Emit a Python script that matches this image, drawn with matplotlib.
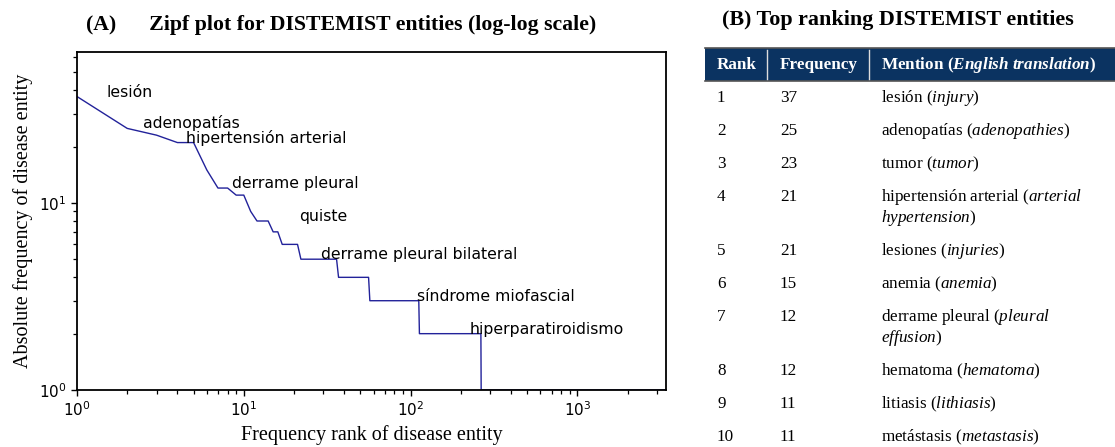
import matplotlib
matplotlib.use('Agg')
import matplotlib.pyplot as plt
from matplotlib.patches import Rectangle
from matplotlib.ticker import LogLocator, NullFormatter
import numpy as np

plt.rcParams['mathtext.fontset'] = 'custom'
plt.rcParams['mathtext.rm'] = 'Liberation Serif'
plt.rcParams['mathtext.it'] = 'Liberation Serif:italic'
plt.rcParams['mathtext.bf'] = 'Liberation Serif:bold'
plt.rcParams['mathtext.bfit'] = 'Liberation Serif:italic:bold'

# frequency of each step and how many entities share it
step_freq = [37, 25, 23, 21, 15, 12, 11, 9, 8, 7, 6, 5, 4, 3, 2, 1]
step_count = [1, 1, 1, 2, 1, 2, 2, 1, 3, 2, 5, 15, 20, 56, 152, 3136]

# labelled entities on the Zipf plot
label_text = ['lesión', 'adenopatías', 'hipertensión arterial', 'derrame pleural',
              'quiste', 'derrame pleural bilateral', 'síndrome miofascial',
              'hiperparatiroidismo']
label_x = [1.5, 2.5, 4.5, 8.5, 21.5, 29, 110, 226]
label_y = [37, 25, 21, 12, 8, 5, 3, 2]

# table (B)
tab_rank = [1, 2, 3, 4, 5, 6, 7, 8, 9, 10]
tab_freq = [37, 25, 23, 21, 21, 15, 12, 12, 11, 11]
tab_es = ['lesión', 'adenopatías', 'tumor', 'hipertensión arterial', 'lesiones',
          'anemia', 'derrame pleural', 'hematoma', 'litiasis', 'metástasis']
tab_en = ['injury', 'adenopathies', 'tumor', 'arterial hypertension', 'injuries',
          'anemia', 'pleural effusion', 'hematoma', 'lithiasis', 'metastasis']

freqs = np.repeat(step_freq, step_count)
ranks = np.arange(1, len(freqs) + 1)

W, H = 1115, 447
fig = plt.figure(figsize=(W / 100, H / 100), dpi=100)


def fx(px):
    return px / W


def fy(py):
    return 1 - py / H


# ---- (A) Zipf plot
ax = fig.add_axes([fx(77), fy(390), fx(666) - fx(77), fy(52) - fy(390)])
ax.plot(ranks, freqs, color='#22229a', lw=1.0, zorder=1)
ax.set_xscale('log')
ax.set_yscale('log')
ax.set_xlim(1, 3400)
ax.set_ylim(1, 64)
for axis in (ax.xaxis, ax.yaxis):
    axis.set_major_locator(LogLocator(base=10.0, numticks=10))
    axis.set_minor_locator(LogLocator(base=10.0, subs=(2, 3, 4, 5, 6, 7, 8, 9), numticks=10))
    axis.set_minor_formatter(NullFormatter())
for s in ax.spines.values():
    s.set_linewidth(1.3)
    s.set_zorder(3)
ax.tick_params(which='major', labelsize=11, length=4, width=1.0)
ax.tick_params(which='minor', length=3, width=0.9)
for t, x, y in zip(label_text, label_x, label_y):
    ax.text(x, y, t, fontsize=11.3, va='baseline', ha='left')
ax.set_xlabel('Frequency rank of disease entity', family='Liberation Serif', fontsize=14.5, labelpad=4)
ax.set_ylabel('Absolute frequency of disease entity', family='Liberation Serif', fontsize=14.5, labelpad=4)
fig.text(fx(341), fy(25), '(A)      Zipf plot for DISTEMIST entities (log-log scale)',
         family='Liberation Serif', fontweight='bold', fontsize=15.7, ha='center', va='center')

# ---- (B) table
fig.text(fx(898), fy(20), '(B) Top ranking DISTEMIST entities', family='Liberation Serif',
         fontweight='bold', fontsize=15.8, ha='center', va='center')
fig.patches.append(Rectangle((fx(705), fy(81)), fx(1115) - fx(705), fy(48) - fy(81),
                             transform=fig.transFigure, facecolor='#0b3361',
                             edgecolor='none'))
for yy in (48, 81):
    fig.add_artist(plt.Line2D([fx(705), fx(1115)], [fy(yy), fy(yy)], color='#555555', lw=1.2))
for xx in (767, 869):
    fig.add_artist(plt.Line2D([fx(xx), fx(xx)], [fy(50), fy(79)], color='#dddddd', lw=1))
col_x = [717, 780, 881]
hdr = dict(family='Liberation Serif', fontweight='bold', fontsize=12.3, color='white', va='center')
fig.text(fx(col_x[0]), fy(65), 'Rank', **hdr)
fig.text(fx(col_x[1]), fy(65), 'Frequency', **hdr)
fig.text(fx(col_x[2]), fy(65), r'Mention ($\mathbfit{English\ translation}$)', **hdr)

cell = dict(family='Liberation Serif', fontsize=12.3, va='center')
row_gap = 33
line_gap = 21
y = 98
for r, f, es, en in zip(tab_rank, tab_freq, tab_es, tab_en):
    fig.text(fx(col_x[0]), fy(y), str(r), **cell)
    fig.text(fx(col_x[1]), fy(y), str(f), **cell)
    if len(es) + len(en) > 28:
        first, rest = en.split(' ', 1)
        fig.text(fx(col_x[2]), fy(y), es + r' ($\mathit{' + first + '}$', **cell)
        fig.text(fx(col_x[2]), fy(y + line_gap), r'$\mathit{' + rest.replace(' ', r'\ ') + '}$)', **cell)
        y += line_gap
    else:
        fig.text(fx(col_x[2]), fy(y), es + r' ($\mathit{' + en.replace(' ', r'\ ') + '}$)', **cell)
    y += row_gap

fig.savefig('out.png', dpi=100)
